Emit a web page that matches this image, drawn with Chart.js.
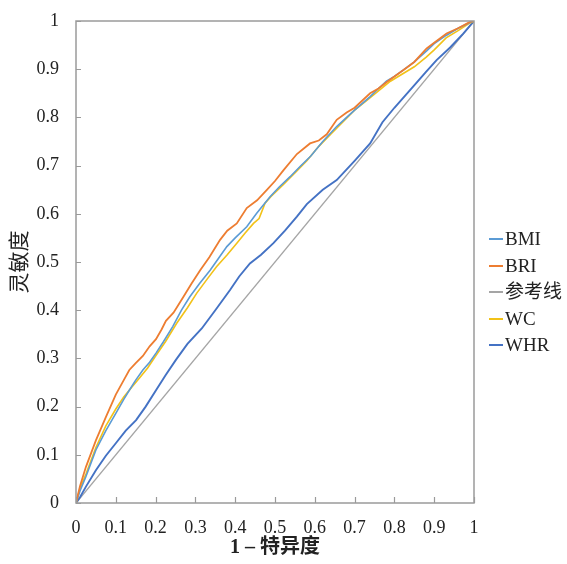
<!DOCTYPE html>
<html>
<head>
<meta charset="utf-8">
<script src="https://cdn.jsdelivr.net/npm/chart.js@4/dist/chart.umd.min.js"></script>
<style>
  html, body { margin: 0; padding: 0; background: #fff; }
  #wrap { position: relative; width: 567px; height: 564px; }
  #legend { position: absolute; left: 489px; top: 226px; font-family: "Liberation Serif", serif; font-size: 19px; color: #222; }
  .item { height: 26.5px; line-height: 26.5px; white-space: nowrap; display: flex; align-items: center; }
  .sw { display: inline-block; width: 14px; height: 2px; margin-right: 2px; }
  .cjk { font-family: "Liberation Serif", "Noto Sans CJK SC", serif; }
</style>
</head>
<body>
<div id="wrap">
  <canvas id="c" width="567" height="564"></canvas>
  <div id="legend"></div>
</div>
<script>
// ---- data ----
const seriesNames = ['BMI', 'BRI', '参考线', 'WC', 'WHR'];
const seriesColors = ['#5B9BD5', '#ED7D31', '#A5A5A5', '#F2C218', '#4472C4'];

const fprBMI = [0,0.01,0.025,0.05,0.075,0.10,0.12,0.134,0.15,0.168,0.185,0.201,0.22,0.243,0.265,0.286,0.31,0.337,0.36,0.379,0.40,0.429,0.454,0.487,0.51,0.538,0.563,0.59,0.62,0.655,0.68,0.70,0.739,0.76,0.78,0.80,0.822,0.85,0.881,0.90,0.93,0.96,0.99,1];
const tprBMI = [0,0.025,0.055,0.11,0.15,0.186,0.215,0.234,0.255,0.276,0.292,0.311,0.335,0.366,0.40,0.428,0.455,0.483,0.51,0.532,0.55,0.573,0.601,0.635,0.655,0.677,0.698,0.72,0.75,0.781,0.80,0.815,0.843,0.86,0.875,0.885,0.898,0.915,0.938,0.953,0.97,0.985,0.997,1];

const fprBRI = [0,0.01,0.025,0.05,0.075,0.10,0.12,0.134,0.15,0.168,0.185,0.201,0.215,0.226,0.245,0.27,0.29,0.312,0.335,0.362,0.38,0.404,0.429,0.455,0.479,0.50,0.521,0.555,0.588,0.61,0.63,0.655,0.68,0.70,0.739,0.76,0.78,0.80,0.822,0.85,0.881,0.90,0.931,0.96,0.99,1];
const tprBRI = [0,0.035,0.075,0.13,0.178,0.225,0.255,0.276,0.29,0.305,0.325,0.34,0.36,0.378,0.395,0.428,0.455,0.483,0.51,0.546,0.565,0.58,0.612,0.628,0.649,0.668,0.69,0.724,0.746,0.752,0.765,0.795,0.81,0.82,0.85,0.86,0.873,0.885,0.898,0.915,0.943,0.955,0.974,0.985,0.998,1];

const fprRef = [0, 1];
const tprRef = [0, 1];

const fprWC = [0,0.01,0.025,0.05,0.075,0.10,0.12,0.14,0.16,0.18,0.20,0.225,0.253,0.28,0.303,0.33,0.353,0.38,0.404,0.425,0.446,0.46,0.475,0.49,0.52,0.55,0.58,0.61,0.64,0.67,0.70,0.73,0.76,0.79,0.82,0.85,0.88,0.90,0.93,0.96,0.99,1];
const tprWC = [0,0.03,0.06,0.115,0.16,0.195,0.22,0.24,0.26,0.28,0.305,0.335,0.373,0.405,0.435,0.465,0.49,0.515,0.539,0.56,0.58,0.59,0.622,0.636,0.66,0.685,0.71,0.74,0.765,0.79,0.815,0.835,0.855,0.875,0.89,0.905,0.925,0.94,0.965,0.98,0.996,1];

const fprWHR = [0,0.01,0.025,0.05,0.075,0.10,0.125,0.151,0.175,0.201,0.225,0.251,0.28,0.316,0.35,0.387,0.41,0.437,0.465,0.496,0.525,0.555,0.58,0.62,0.655,0.70,0.739,0.77,0.80,0.847,0.88,0.906,0.94,0.973,1];
const tprWHR = [0,0.012,0.034,0.068,0.098,0.124,0.15,0.172,0.2,0.234,0.265,0.297,0.33,0.362,0.4,0.442,0.47,0.497,0.515,0.539,0.565,0.594,0.62,0.65,0.67,0.71,0.746,0.79,0.82,0.864,0.895,0.919,0.945,0.974,1];

const xTickLabels = ['0','0.1','0.2','0.3','0.4','0.5','0.6','0.7','0.8','0.9','1'];
const yTickLabels = ['0','0.1','0.2','0.3','0.4','0.5','0.6','0.7','0.8','0.9','1'];
const xTitle = '1 – 特异度';
const yTitle = '灵敏度';

// ---- build ----
const fprs = [fprBMI, fprBRI, fprRef, fprWC, fprWHR];
const tprs = [tprBMI, tprBRI, tprRef, tprWC, tprWHR];
const widths = [1.6, 1.8, 1.4, 1.6, 1.9];
const drawOrder = [2, 4, 3, 0, 1]; // later = on top
const datasets = seriesNames.map((name, i) => ({
  label: name,
  data: fprs[i].map((x, k) => ({ x: x, y: tprs[i][k] })),
  borderColor: seriesColors[i],
  backgroundColor: seriesColors[i],
  borderWidth: widths[i],
  showLine: true,
  pointRadius: 0,
  tension: 0,
  order: 10 - drawOrder.indexOf(i)
}));

// html legend
const lg = document.getElementById('legend');
seriesNames.forEach((n, i) => {
  const d = document.createElement('div');
  d.className = 'item' + (/[\u4e00-\u9fff]/.test(n) ? ' cjk' : '');
  const s = document.createElement('span');
  s.className = 'sw';
  s.style.background = seriesColors[i];
  d.appendChild(s);
  d.appendChild(document.createTextNode(n));
  lg.appendChild(d);
});

const frame = {
  id: 'frame',
  afterDraw(chart) {
    const { ctx, chartArea: a, scales } = chart;
    ctx.save();
    ctx.strokeStyle = '#9a9a9a';
    ctx.lineWidth = 1.5;
    ctx.strokeRect(a.left, a.top, a.right - a.left, a.bottom - a.top);
    ctx.lineWidth = 1.2;
    ctx.beginPath();
    scales.x.ticks.forEach(t => {
      const px = Math.round(scales.x.getPixelForValue(t.value)) + 0.5;
      ctx.moveTo(px, a.bottom);
      ctx.lineTo(px, a.bottom - 6);
    });
    scales.y.ticks.forEach(t => {
      const py = Math.round(scales.y.getPixelForValue(t.value)) + 0.5;
      ctx.moveTo(a.left, py);
      ctx.lineTo(a.left + 5, py);
    });
    ctx.stroke();
    ctx.restore();
  }
};

const tickFont = { family: '"Liberation Serif", serif', size: 18 };
new Chart(document.getElementById('c'), {
  type: 'scatter',
  data: { datasets },
  options: {
    responsive: false,
    animation: false,
    layout: { padding: { top: 21, right: 93, left: 0, bottom: 0 } },
    plugins: { legend: { display: false }, tooltip: { enabled: false } },
    scales: {
      x: {
        type: 'linear', min: 0, max: 1,
        grid: { display: false, drawTicks: false },
        border: { display: false },
        ticks: {
          stepSize: 0.1, autoSkip: false, maxRotation: 0, padding: 14,
          color: '#222', font: tickFont,
          callback: (v, i) => xTickLabels[i]
        },
        title: {
          display: true, text: xTitle, color: '#222',
          font: { family: '"Liberation Serif", "Noto Sans CJK SC", serif', size: 20, weight: 'bold' },
          padding: { top: 0, bottom: 4 }
        },
        afterFit(s) { s.height = 61; s.paddingLeft = 0; s.paddingRight = 0; }
      },
      y: {
        type: 'linear', min: 0, max: 1,
        grid: { display: false, drawTicks: false },
        border: { display: false },
        ticks: {
          stepSize: 0.1, autoSkip: false, padding: 17,
          color: '#222', font: tickFont,
          callback: (v, i) => yTickLabels[i]
        },
        title: {
          display: true, text: yTitle, color: '#222',
          font: { family: '"Noto Sans CJK SC", sans-serif', size: 21 },
          padding: { top: 5, bottom: 0 }
        },
        afterFit(s) { s.width = 76; s.paddingTop = 0; s.paddingBottom = 0; }
      }
    }
  },
  plugins: [frame]
});
</script>
</body>
</html>
